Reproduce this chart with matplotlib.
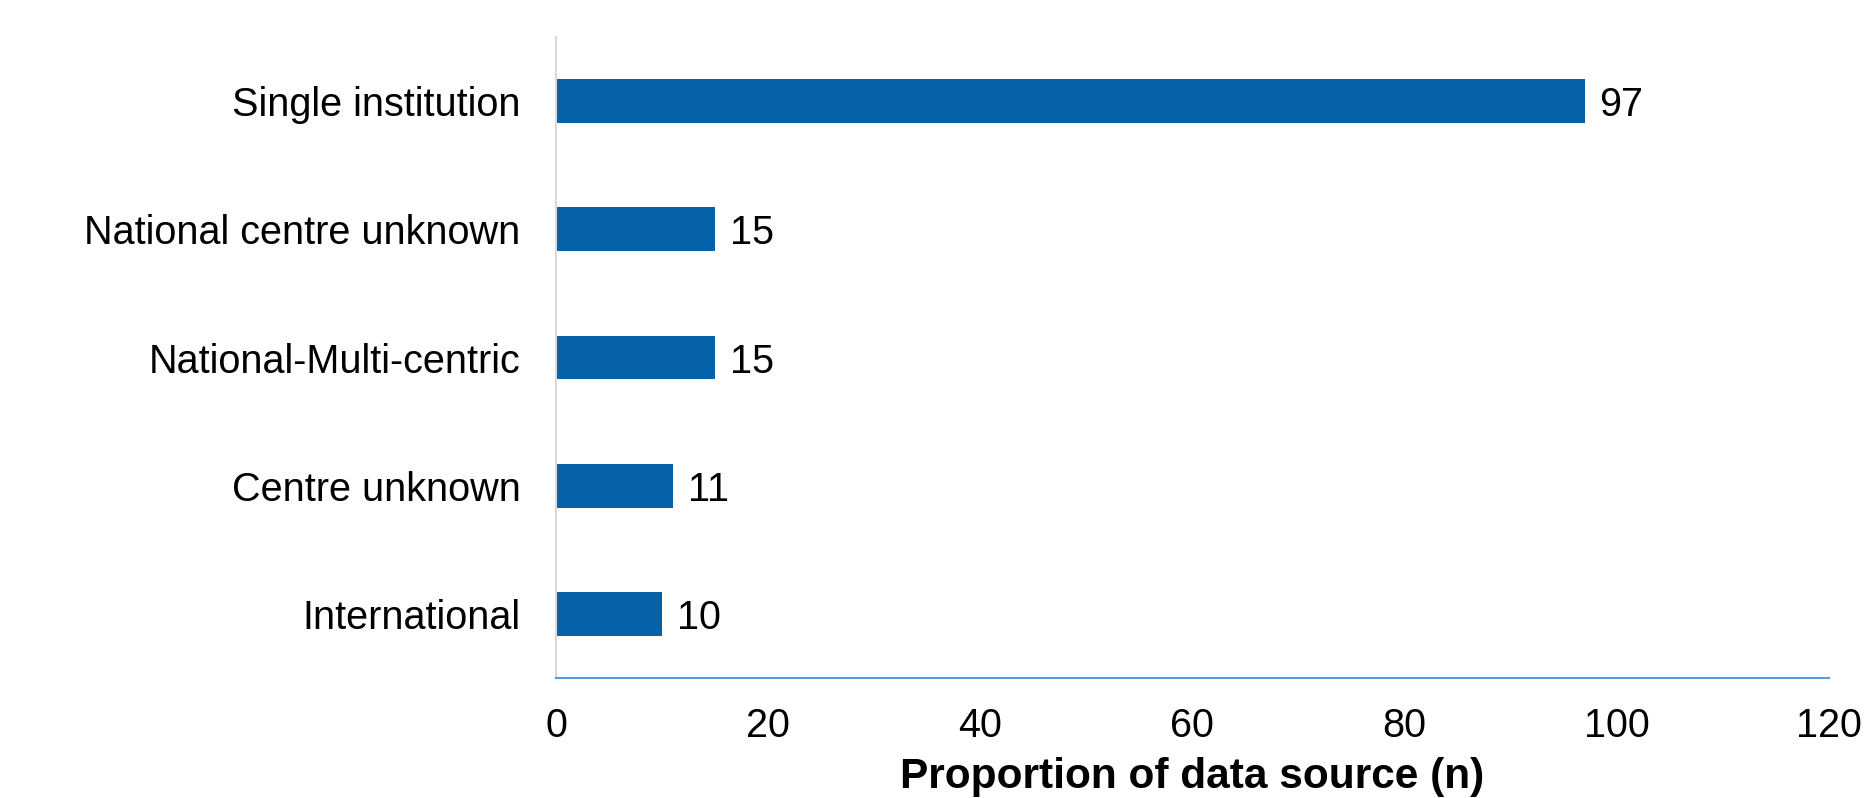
import matplotlib.pyplot as plt

# --- data --- #
categories = ["Single institution", "National centre unknown", "National-Multi-centric",
              "Centre unknown", "International"]
counts = [97, 15, 15, 11, 10]
x_ticks = [0, 20, 40, 60, 80, 100, 120]

plt.rcParams['font.family'] = ['Liberation Sans', 'DejaVu Sans']

fig = plt.figure( figsize=(18.66, 7.98), dpi=100 )
ax = fig.add_axes( [0.298, 0.150, 0.682, 0.804] )

ypos = list( range( len( categories ) ) )[::-1]
ax.barh( ypos, counts, height=0.34, color="#0562A8" )
for y, val in zip( ypos, counts ):
	ax.text( val + 1.4, y, str( val ), va="center_baseline", ha="left", fontsize=28.5 )

ax.set_xlim( 0, 120 )
ax.set_ylim( -0.5, len( categories ) - 0.5 )
ax.set_xticks( x_ticks )
ax.set_yticks( ypos )
ax.set_yticklabels( categories, va="center_baseline" )
ax.tick_params( axis="both", length=0, labelsize=28.5 )
ax.tick_params( axis="x", pad=21 )
ax.tick_params( axis="y", pad=25.5 )
ax.set_xlabel( "Proportion of data source (n)", fontsize=30.5, fontweight="bold", labelpad=8 )

for side in ["top", "right"]:
	ax.spines[side].set_visible( False )
ax.spines["left"].set_color( "#D9D9D9" )
ax.spines["left"].set_linewidth( 1.5 )
ax.spines["bottom"].set_color( "#5B9BD5" )
ax.spines["bottom"].set_linewidth( 1.5 )

fig.savefig( "out.png", dpi=100 )
